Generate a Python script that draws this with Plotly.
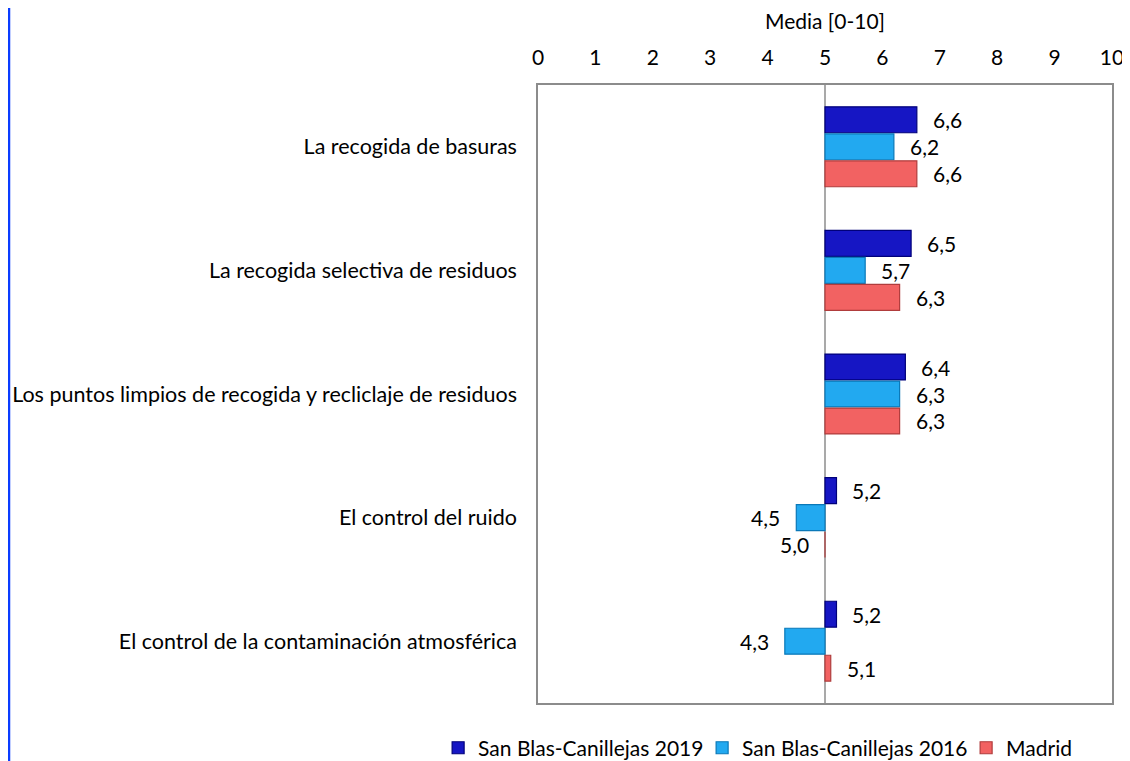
import plotly.graph_objects as go

categories = [
    "La recogida de basuras",
    "La recogida selectiva de residuos",
    "Los puntos limpios de recogida y recliclaje de residuos",
    "El control del ruido",
    "El control de la contaminación atmosférica",
]
series_names = ["San Blas-Canillejas 2019", "San Blas-Canillejas 2016", "Madrid"]
sb_2019 = [6.6, 6.5, 6.4, 5.2, 5.2]
sb_2016 = [6.2, 5.7, 6.3, 4.5, 4.3]
madrid = [6.6, 6.3, 6.3, 5.0, 5.1]
x_ticks = list(range(0, 11))
base_value = 5

fills = ["#1616C4", "#22A9F0", "#F26262"]
edges = ["#00007A", "#0A78B8", "#B03C3C"]
FONT = "Lato, 'Open Sans', sans-serif"
FS = 21

bargap = 0.345
fig = go.Figure()
for name, vals, fc, ec in zip(series_names, [sb_2019, sb_2016, madrid], fills, edges):
    fig.add_trace(go.Bar(
        y=categories,
        x=[v - base_value for v in vals],
        base=base_value,
        orientation="h",
        name=name,
        marker=dict(color=fc, line=dict(color=ec, width=1.2)),
        hovertemplate="%{y}: %{customdata}<extra>" + name + "</extra>",
        customdata=vals,
    ))

# data labels, placed outside each bar end
w = (1 - bargap) / 3
for j, vals in enumerate([sb_2019, sb_2016, madrid]):
    for i, v in enumerate(vals):
        right = v > base_value
        fig.add_annotation(
            x=v, y=i + (j - 1) * w,
            xref="x", yref="y",
            text=f"{v:.1f}".replace(".", ","),
            showarrow=False,
            xanchor="left" if right else "right",
            xshift=14 if right else -14,
            font=dict(family=FONT, size=FS, color="#000000"),
        )

# reference line at 5 and the left blue rule
fig.add_shape(type="line", xref="x", yref="paper", x0=base_value, x1=base_value,
              y0=0, y1=1, line=dict(color="#8C8C8C", width=1.5), layer="below")
fig.add_shape(type="line", xref="paper", yref="paper", x0=-0.9216, x1=-0.9216,
              y0=-0.12, y1=1.15, line=dict(color="#0A3CFF", width=2.5))

# the page body adds an 8px offset at the top-left
fig.update_layout(
    width=1122, height=753,
    paper_bgcolor="#FFFFFF",
    plot_bgcolor="#FFFFFF",
    margin=dict(l=530, r=18, t=77, b=58, autoexpand=False),
    barmode="group",
    bargap=bargap,
    bargroupgap=0.04,
    font=dict(family=FONT, size=FS, color="#000000"),
    xaxis=dict(
        side="top",
        range=[0, 10],
        tickvals=x_ticks,
        ticks="",
        showgrid=False,
        zeroline=False,
        showline=True,
        linecolor="#8C8C8C",
        linewidth=1.5,
        mirror=True,
        automargin=False,
        ticklabelstandoff=10,
        ticklabeloverflow="allow",
        title=dict(text="Media [0-10]", font=dict(family=FONT, size=FS), standoff=11),
        tickfont=dict(family=FONT, size=FS),
    ),
    yaxis=dict(
        autorange="reversed",
        showgrid=False,
        ticks="",
        showline=True,
        linecolor="#8C8C8C",
        linewidth=1.5,
        mirror=True,
        automargin=False,
        ticklabelstandoff=15,
        ticklabeloverflow="allow",
        tickfont=dict(family=FONT, size=21.5),
    ),
    legend=dict(
        orientation="h",
        x=-0.174, xanchor="left",
        y=-0.073, yanchor="middle",
        font=dict(family=FONT, size=FS),
        itemwidth=30,
        entrywidth=219,
        tracegroupgap=0,
    ),
)

fig.write_html("out.html")
